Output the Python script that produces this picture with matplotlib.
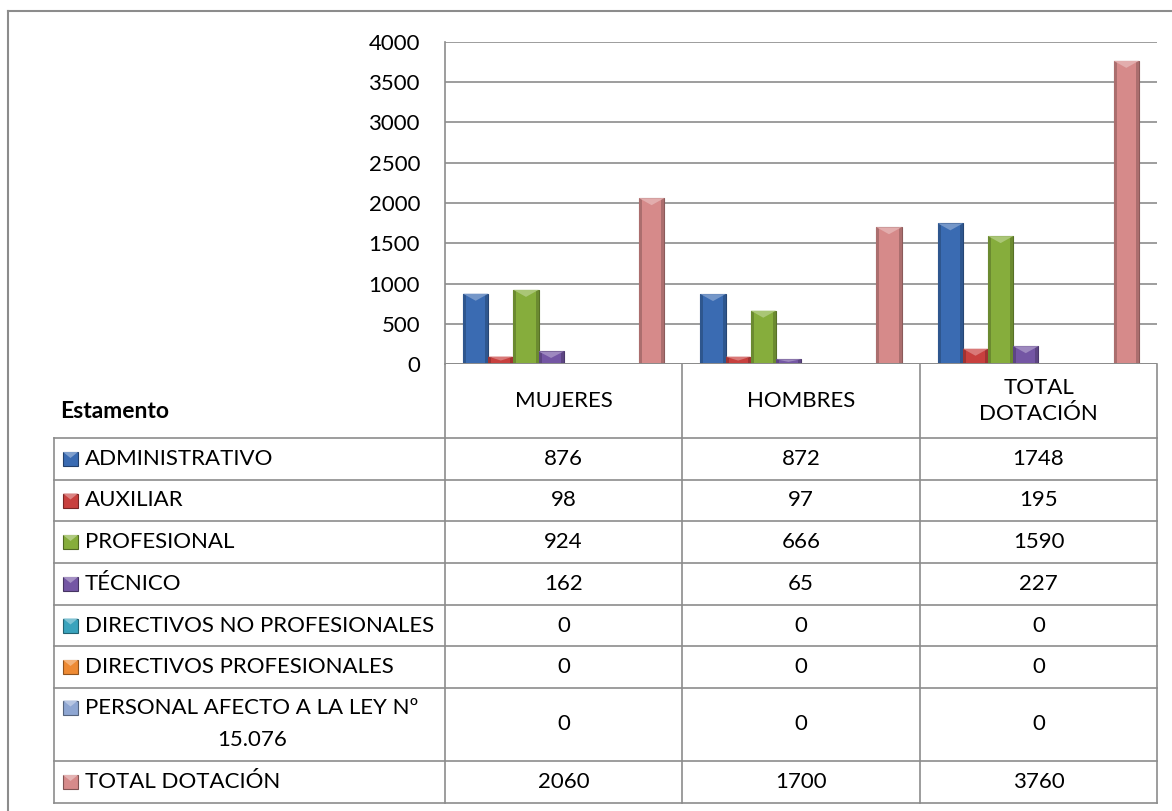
import numpy as np
import matplotlib.pyplot as plt
from matplotlib.patches import Rectangle, Polygon
from matplotlib.lines import Line2D
from matplotlib.colors import to_rgb

W, H = 1172, 811

categories = ["MUJERES", "HOMBRES", "TOTAL\nDOTACIÓN"]
series_names = [
    "ADMINISTRATIVO",
    "AUXILIAR",
    "PROFESIONAL",
    "TÉCNICO",
    "DIRECTIVOS NO PROFESIONALES",
    "DIRECTIVOS PROFESIONALES",
    "PERSONAL AFECTO A LA LEY Nº\n15.076",
    "TOTAL DOTACIÓN",
]
administrativo = [876, 872, 1748]
auxiliar = [98, 97, 195]
profesional = [924, 666, 1590]
tecnico = [162, 65, 227]
directivos_no_prof = [0, 0, 0]
directivos_prof = [0, 0, 0]
personal_ley = [0, 0, 0]
total_dotacion = [2060, 1700, 3760]
yticks = [0, 500, 1000, 1500, 2000, 2500, 3000, 3500, 4000]

values = [administrativo, auxiliar, profesional, tecnico,
          directivos_no_prof, directivos_prof, personal_ley, total_dotacion]
colors = ["#3a6bb2", "#c8403e", "#86ad3c", "#7456a4",
          "#3aa3bd", "#ee8a33", "#8ea6d2", "#d68a8a"]

GRAY = "#8c8c8c"
FONT = "Lato"
FS = 16

# pixel layout of the reference
AX_L, AX_R, AX_T, AX_B = 445, 1157, 41.5, 364.5
COL_X = [445, 682, 920, 1157]
ROW_Y = [438, 480, 521, 563, 605, 646, 688, 761, 803]
TAB_L = 54


def fx(x):
    return x / W


def fy(y):
    return 1 - y / H


def shade(c, f):
    r = np.array(to_rgb(c))
    if f < 0:
        return tuple(r * (1 + f))
    return tuple(r + (1 - r) * f)


def fig_line(fig, x0, y0, x1, y1, lw=1.2, color=GRAY):
    fig.add_artist(Line2D([fx(x0), fx(x1)], [fy(y0), fy(y1)],
                          transform=fig.transFigure, color=color, lw=lw,
                          solid_capstyle="projecting"))


fig = plt.figure(figsize=(W / 100, H / 100), dpi=100)
plt.rcParams["font.family"] = [FONT, "DejaVu Sans"]

ax = fig.add_axes([fx(AX_L), fy(AX_B), (AX_R - AX_L) / W, (AX_B - AX_T) / H])
ax.set_xlim(-0.5, len(categories) - 0.5)
ax.set_ylim(0, 4000)
ax.set_yticks(yticks)
ax.set_yticklabels([str(t) for t in yticks], fontsize=FS)
ax.tick_params(axis="y", length=0, pad=18)
ax.set_xticks([])
for s in ["top", "right", "bottom"]:
    ax.spines[s].set_visible(False)
ax.spines["left"].set_color(GRAY)
ax.spines["left"].set_linewidth(1.2)
ax.yaxis.grid(True, color=GRAY, lw=1.2)
ax.set_axisbelow(True)

n = len(values)
bw = 25.1 / (COL_X[1] - COL_X[0])
units_per_px = 4000 / (AX_B - AX_T)
side = 3.0 / (COL_X[1] - COL_X[0])
x = np.arange(len(categories))
for i, (vals, col) in enumerate(zip(values, colors)):
    xs = x + (i - (n - 1) / 2) * bw
    for xc, v in zip(xs, vals):
        if v <= 0:
            continue
        ax.bar(xc, v, width=bw, color=col, edgecolor=shade(col, -0.35),
               lw=0.8, zorder=3)
        ax.add_patch(Rectangle((xc - bw / 2, 0), side, v,
                               color=shade(col, -0.2), lw=0, zorder=4))
        ax.add_patch(Rectangle((xc + bw / 2 - side, 0), side, v,
                               color=shade(col, -0.2), lw=0, zorder=4))
        bh = min(7 * units_per_px, v / 2)
        ax.add_patch(Polygon([(xc - bw / 2, v), (xc + bw / 2, v), (xc, v - bh)],
                             closed=True, color=shade(col, 0.3), lw=0, zorder=5))
    ax.axhline(0, color=GRAY, lw=1.2, zorder=6)

# outer frame (cropped on the right and bottom)
fig_line(fig, 8, 11, W, 11, lw=1.5)
fig_line(fig, 8, 11, 8, H, lw=1.5)

# data table grid
for y in ROW_Y:
    fig_line(fig, TAB_L, y, COL_X[-1], y)
fig_line(fig, TAB_L, ROW_Y[0], TAB_L, ROW_Y[-1])
fig_line(fig, COL_X[0], AX_B, COL_X[0], ROW_Y[-1])
for cx in COL_X[1:]:
    fig_line(fig, cx, AX_B, cx, ROW_Y[-1])

# header row
hy = (AX_B + ROW_Y[0]) / 2
fig.text(fx(60), fy(hy + 10), "Estamento", fontsize=FS + 0.5, fontweight="bold",
         ha="left", va="center")
for j, cat in enumerate(categories):
    cx = (COL_X[j] + COL_X[j + 1]) / 2
    fig.text(fx(cx), fy(hy), cat, fontsize=FS, ha="center", va="center",
             multialignment="center", linespacing=1.4)

# series rows
for i, (name, vals, col) in enumerate(zip(series_names, values, colors)):
    y0, y1 = ROW_Y[i], ROW_Y[i + 1]
    lines = name.split("\n")
    if len(lines) == 1:
        ly = (y0 + y1) / 2
    else:
        ly = y0 + 19.5
    # legend key
    fig.add_artist(Rectangle((fx(63), fy(ly + 7)), 15 / W, 14 / H,
                             transform=fig.transFigure, facecolor=col,
                             edgecolor=shade(col, -0.4), lw=0.8))
    fig.add_artist(Polygon([(fx(63), fy(ly - 7)), (fx(78), fy(ly - 7)),
                            (fx(70.5), fy(ly - 1))], closed=True,
                           transform=fig.transFigure,
                           color=shade(col, 0.35), lw=0))
    fig.text(fx(85), fy(ly), lines[0], fontsize=FS, ha="left", va="center")
    for k, extra in enumerate(lines[1:]):
        fig.text(fx((TAB_L + COL_X[0]) / 2 + 3), fy(ly + 32 * (k + 1)), extra,
                 fontsize=FS, ha="center", va="center")
    for j, v in enumerate(vals):
        cx = (COL_X[j] + COL_X[j + 1]) / 2
        fig.text(fx(cx), fy((y0 + y1) / 2), str(v), fontsize=FS,
                 ha="center", va="center")

fig.savefig("out.png", dpi=100, facecolor="white")
